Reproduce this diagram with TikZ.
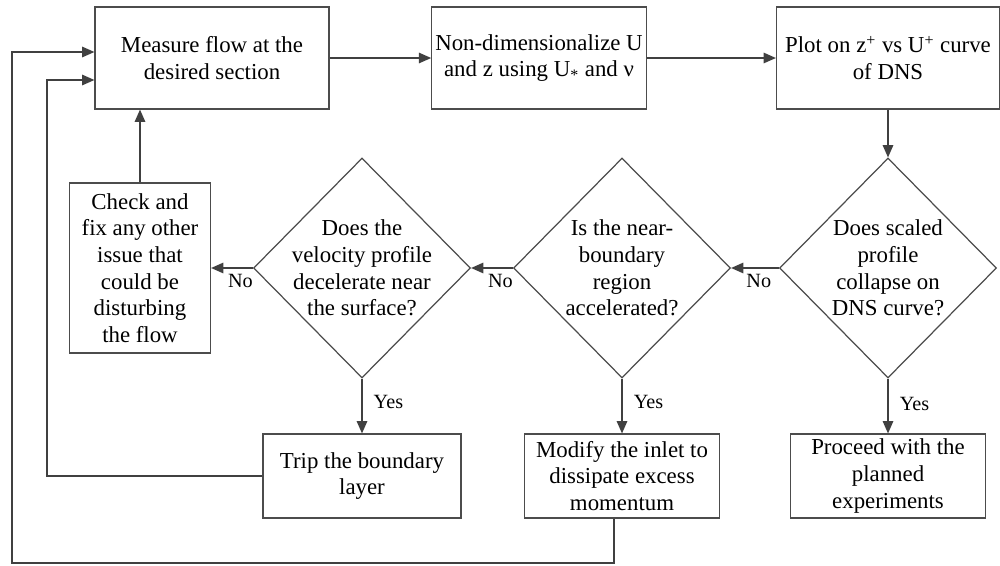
\documentclass[tikz,border=0pt]{standalone}
\usepackage{fontspec}
\setmainfont{Liberation Serif}
\usetikzlibrary{shapes.geometric,arrows.meta}

\begin{document}
\begin{tikzpicture}[x=0.02cm, y=-0.02cm, font=\fontsize{13}{15.2}\selectfont,
  box/.style={draw=black!70, line width=0.7pt, rectangle, align=center, inner sep=2pt},
  decision/.style={draw=black!70, line width=0.7pt, diamond, inner sep=0pt, minimum width=4.34cm, minimum height=4.4cm},
  flow/.style={draw=black!75, line width=0.7pt, -{Triangle[length=7pt,width=6pt]}},
  answer/.style={font=\fontsize{11.5}{13}\selectfont}]
\useasboundingbox (0,0) rectangle (1000,565);

% top row
\node[box, minimum width=4.68cm, minimum height=2.04cm] (meas) at (212,58) {Measure flow at the\\desired section};
\node[box, minimum width=4.2cm, minimum height=2.04cm] (nondim) at (539,58) {Non-dimensionalize U\\and z using U\textsubscript{*} and ν};
\node[box, minimum width=4.46cm, minimum height=2.04cm] (plot) at (888,58) {Plot on z\textsuperscript{+} vs U\textsuperscript{+} curve\\of DNS};

% decisions
\node[decision] (collapse) at (888,268) {};
\node[align=center] (collapsetxt) at (collapse.center) {Does scaled\\profile\\collapse on\\DNS curve?};
\node[decision] (accel) at (622,268) {};
\node[align=center] (acceltxt) at (accel.center) {Is the near-\\boundary\\region\\accelerated?};
\node[decision] (decel) at (362,268) {};
\node[align=center] (deceltxt) at (decel.center) {Does the\\velocity profile\\decelerate near\\the surface?};
\node[box, minimum width=2.82cm, minimum height=3.4cm] (check) at (140,268) {Check and\\fix any other\\issue that\\could be\\disturbing\\the flow};

% bottom row
\node[box, minimum width=3.96cm, minimum height=1.68cm] (trip) at (362,476) {Trip the boundary\\layer};
\node[box, minimum width=3.9cm, minimum height=1.68cm] (modify) at (622,476) {Modify the inlet to\\dissipate excess\\momentum};
\node[box, minimum width=3.9cm, minimum height=1.68cm] (proceed) at (888,476) {Proceed with the\\planned\\experiments};

\draw[flow] (meas) -- (nondim);
\draw[flow] (nondim) -- (plot);
\draw[flow] (plot) -- (collapse);
\draw[flow] (collapse.west) -- node[answer, below, pos=0.42] {No} (accel.east);
\draw[flow] (accel.west) -- node[answer, below, pos=0.3] {No} (decel.east);
\draw[flow] (decel.west) -- node[answer, below, pos=0.3] {No} (check.east);
\draw[flow] (check.north) -- (check.north |- meas.south);
\draw[flow] (decel.south) -- node[answer, right, pos=0.42, xshift=3pt] {Yes} (trip.north);
\draw[flow] (accel.south) -- node[answer, right, pos=0.42, xshift=3pt] {Yes} (modify.north);
\draw[flow] (collapse.south) -- node[answer, right, pos=0.46, xshift=3pt] {Yes} (proceed.north);

% loops back to the start
\draw[flow] (trip.west) -| (47,80) -- (meas.west |- 0,80);
\draw[flow] (modify.south -| 614,0) |- (12,563) |- (meas.west |- 0,52);
\end{tikzpicture}
\end{document}
